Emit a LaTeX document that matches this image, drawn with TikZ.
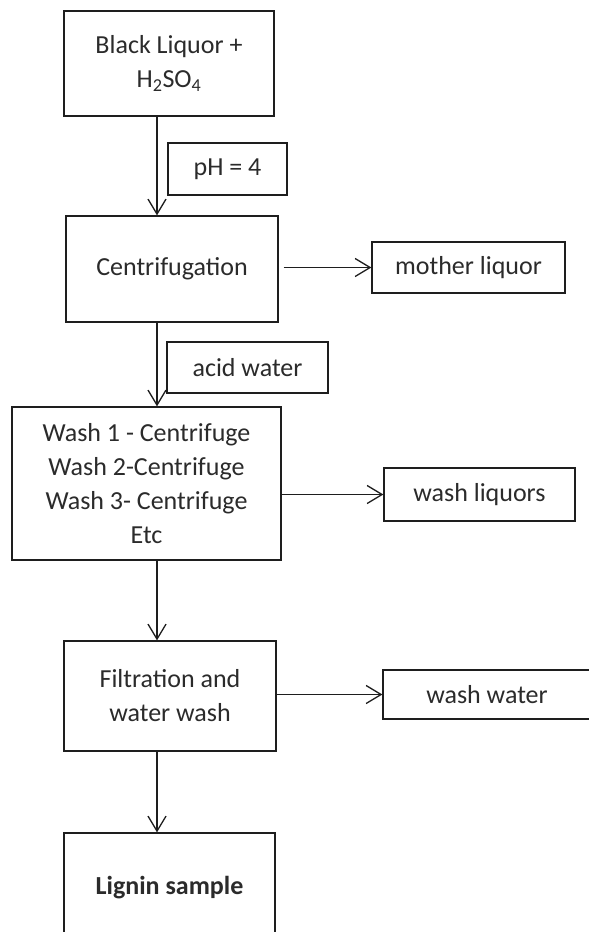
\documentclass[tikz,border=0pt]{standalone}
\usepackage{fontspec}
\setmainfont{Carlito}
\usetikzlibrary{arrows.meta}
\definecolor{linecol}{HTML}{1E1E1E}
\definecolor{txtcol}{HTML}{2B2B2B}
\tikzset{
  box/.style={draw=linecol, line width=1.3pt, rectangle, inner sep=0pt, align=center,
    text=txtcol, font=\fontsize{26}{34}\selectfont},
  arr/.style={draw=linecol, line width=1.3pt,
    -{Straight Barb[length=15pt,width=18pt,line width=1.3pt]}},
}
\begin{document}
\begin{tikzpicture}[x=1pt,y=-1pt]
\useasboundingbox (0,0) rectangle (589,932);
\fill[white] (0,0) rectangle (589,932);
\coordinate (sp) at (157,0);
% main column
\node[box, minimum width=210pt, minimum height=105pt] (b1) at (169,63.5) {Black Liquor +\\H\textsubscript{2}SO\textsubscript{4}};
\node[box, minimum width=212pt, minimum height=106pt] (cent) at (172,269) {Centrifugation};
\node[box, minimum width=269pt, minimum height=153pt] (wash) at (146.5,483.5) {Wash 1 - Centrifuge\\Wash 2-Centrifuge\\Wash 3- Centrifuge\\Etc};
\node[box, minimum width=212pt, minimum height=110pt] (filt) at (170,696) {Filtration and\\water wash};
\node[box, minimum width=211pt, minimum height=110pt] (lig) at (169.5,888) {\bfseries Lignin sample};
% side labels
\node[box, minimum width=119pt, minimum height=52pt] (ph) at (227.5,169) {pH = 4};
\node[box, minimum width=161pt, minimum height=51pt] (acid) at (247.5,367.5) {acid water};
\node[box, minimum width=193pt, minimum height=51pt] (mother) at (468.5,267.5) {mother liquor};
\node[box, minimum width=191pt, minimum height=53pt] (liq) at (479.5,494.5) {wash liquors};
\node[box, minimum width=208pt, minimum height=49pt] (ww) at (487,694.5) {wash water};
% vertical arrows
\draw[arr] (b1.south -| sp) -- (cent.north -| sp);
\draw[arr] (cent.south -| sp) -- (wash.north -| sp);
\draw[arr] (wash.south -| sp) -- (filt.north -| sp);
\draw[arr] (filt.south -| sp) -- (lig.north -| sp);
% horizontal arrows
\draw[arr, shorten <=5pt] (cent.east |- mother.west) -- (mother.west);
\draw[arr] (wash.east |- liq.west) -- (liq.west);
\draw[arr] (filt.east |- ww.west) -- (ww.west);
\end{tikzpicture}
\end{document}
